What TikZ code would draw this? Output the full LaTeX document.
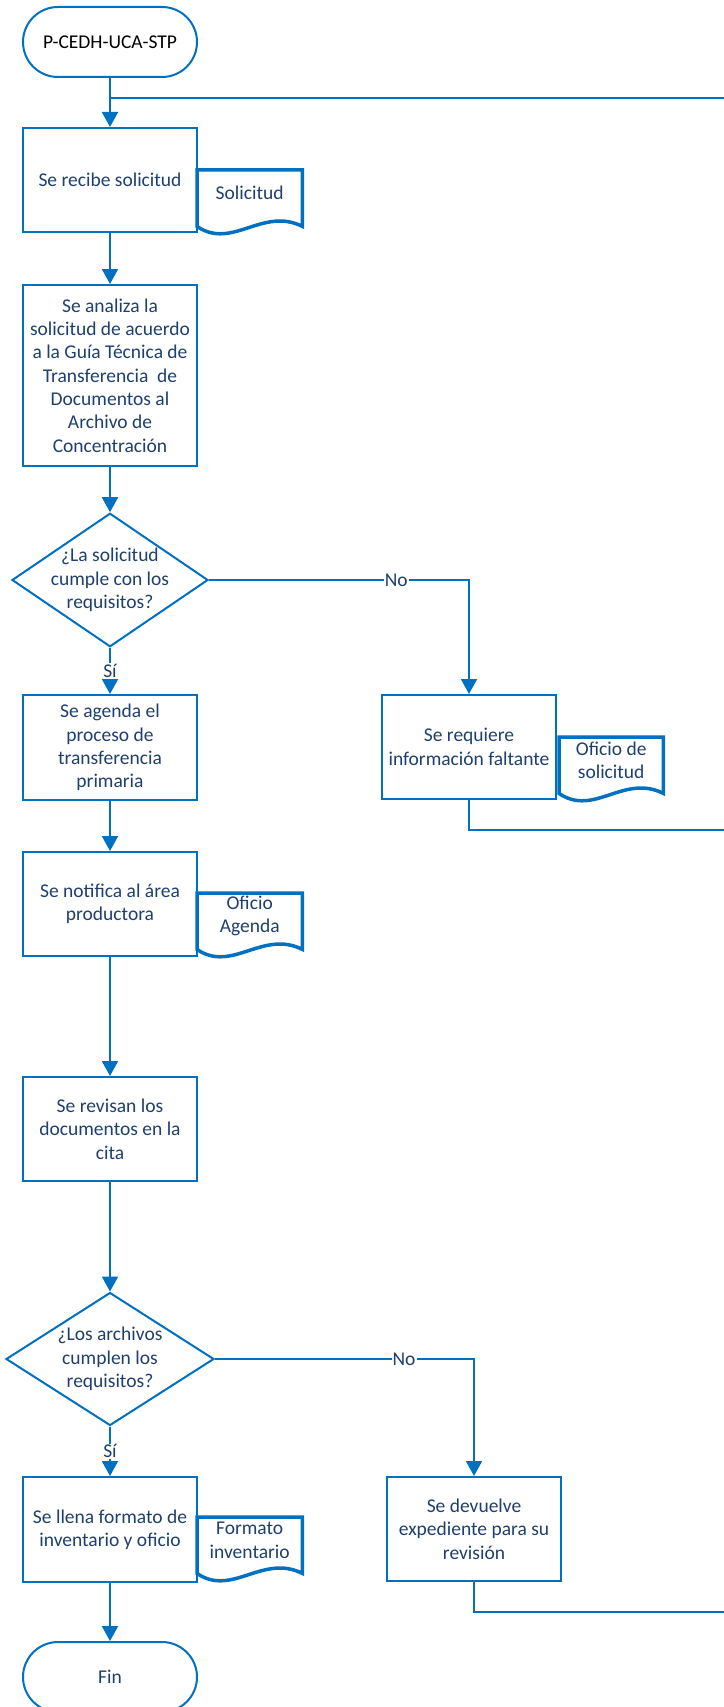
\documentclass[tikz,border=0pt]{standalone}
\usepackage{fontspec}
\setmainfont{Carlito}
\usetikzlibrary{arrows.meta,shapes.geometric}
\definecolor{flowblue}{RGB}{0,112,192}
\definecolor{textblue}{RGB}{31,64,110}
\tikzset{
  every node/.style={font=\fontsize{19.5}{23.3}\selectfont, text=textblue},
  proc/.style={draw=flowblue, line width=2pt, fill=white, minimum width=174pt, align=center, inner sep=2pt},
  term/.style={draw=flowblue, line width=2pt, rounded corners=35pt, minimum width=174pt, minimum height=70pt},
  decision/.style={diamond, draw=flowblue, line width=2pt, fill=white, align=center, inner sep=-12pt},
  docu/.style={anchor=north west, minimum width=105pt, minimum height=46pt, inner sep=1pt, align=center},
  docline/.style={draw=flowblue, line width=3.5pt},
  flow/.style={draw=flowblue, line width=2pt, -{Triangle[length=15pt,width=16pt]}},
  line/.style={draw=flowblue, line width=2pt},
  lbl/.style={fill=white, inner sep=1pt}
}
\begin{document}
\begin{tikzpicture}[x=1pt, y=-1pt]
    \useasboundingbox (0,0) rectangle (723,1707);
    \fill[white] (0,0) rectangle (723,1707);
    % Main column
    \node[term, text=black] (start) at (110,42) {P-CEDH-UCA-STP};
    \node[proc, minimum height=104pt] (recibe) at (110,180) {Se recibe solicitud};
    \node[proc, minimum height=181pt] (analiza) at (110,375.5) {Se analiza la\\solicitud de acuerdo\\a la Guía Técnica de\\Transferencia \ de\\Documentos al\\Archivo de\\Concentración};
    \node[decision, minimum width=196pt, minimum height=126pt] (cumple) at (110,580) {¿La solicitud\\cumple con los\\requisitos?};
    \node[proc, minimum height=105pt] (agenda) at (110,747.5) {Se agenda el\\proceso de\\transferencia\\primaria};
    \node[proc, minimum height=104pt] (notifica) at (110,904) {Se notifica al área\\productora};
    \node[proc, minimum height=104pt] (revisan) at (110,1129) {Se revisan los\\documentos en la\\cita};
    \node[decision, minimum width=208pt, minimum height=133pt] (archivos) at (110,1359) {¿Los archivos\\cumplen los\\requisitos?};
    \node[proc, minimum height=105pt] (llena) at (110,1529.5) {Se llena formato de\\inventario y oficio};
    \node[term] (fin) at (110,1677) {Fin};
    % Right column
    \node[proc, minimum height=104pt] (requiere) at (469,747) {Se requiere\\información faltante};
    \node[proc, minimum height=104pt] (devuelve) at (474,1529) {Se devuelve\\expediente para su\\revisión};
    % Documents
    \node[docu] (dsol) at (197,170) {Solicitud};
    \node[docu, minimum width=104pt] (dofs) at (559,737) {Oficio de\\solicitud};
    \node[docu] (dage) at (197,893) {Oficio\\Agenda};
    \node[docu] (dfor) at (197,1517) {Formato\\inventario};
    \foreach \d in {dsol,dofs,dage,dfor}
        \draw[docline] (\d.north west) -- (\d.north east) -- ([yshift=-10pt]\d.south east)
            .. controls +(-40pt,20pt) and +(35pt,-24pt) .. ([yshift=-10pt]\d.south west) -- cycle;
    % Return points (loop closes outside the page)
    \coordinate (join) at (110,98);
    \coordinate (ret1) at (745,830);
    \coordinate (ret2) at (745,1612);
    % Connectors
    \draw[flow] (start) -- (recibe);
    \draw[flow] (recibe) -- (analiza);
    \draw[flow] (analiza) -- (cumple);
    \draw[flow] (cumple) -- node[lbl] (si1) {Sí} (agenda);
    \draw[flow] (cumple) -| node[lbl, pos=0.36] (no1) {No} (requiere);
    \draw[flow] (agenda) -- (notifica);
    \draw[flow] (notifica) -- (revisan);
    \draw[flow] (revisan) -- (archivos);
    \draw[flow] (archivos) -- node[lbl] (si2) {Sí} (llena);
    \draw[flow] (archivos) -| node[lbl, pos=0.365] (no2) {No} (devuelve);
    \draw[flow] (llena) -- (fin);
    \draw[line] (requiere) |- (ret1) |- (join);
    \draw[line] (devuelve) |- (ret2) -- (ret1);
\end{tikzpicture}
\end{document}
